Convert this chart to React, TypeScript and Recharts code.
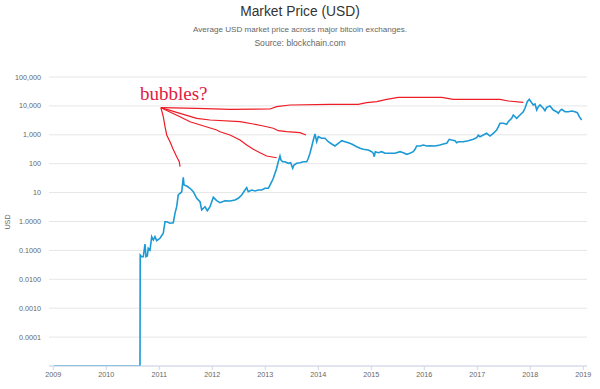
import React from "react";
import { LineChart, Line, XAxis, YAxis, CartesianGrid } from "recharts";

// ---- Data ----
const priceYears = [
  2009.01, 2010.636, 2010.64, 2010.668, 2010.698, 2010.73, 2010.749, 2010.774, 2010.792, 2010.825,
  2010.857, 2010.887, 2010.919, 2010.951, 2011.013, 2011.075, 2011.108, 2011.14, 2011.202, 2011.264,
  2011.296, 2011.328, 2011.358, 2011.391, 2011.423, 2011.453, 2011.466, 2011.517, 2011.579, 2011.642,
  2011.706, 2011.768, 2011.8, 2011.862, 2011.906, 2011.957, 2012.019, 2012.083, 2012.145, 2012.24,
  2012.334, 2012.428, 2012.491, 2012.555, 2012.617, 2012.649, 2012.679, 2012.743, 2012.806, 2012.868,
  2012.932, 2012.994, 2013.057, 2013.089, 2013.121, 2013.151, 2013.183, 2013.215, 2013.245, 2013.277,
  2013.296, 2013.328, 2013.372, 2013.434, 2013.479, 2013.517, 2013.542, 2013.592, 2013.655, 2013.717,
  2013.781, 2013.811, 2013.843, 2013.875, 2013.906, 2013.938, 2013.97, 2014.0, 2014.064, 2014.126,
  2014.189, 2014.253, 2014.315, 2014.377, 2014.442, 2014.504, 2014.566, 2014.63, 2014.725, 2014.787,
  2014.849, 2014.943, 2015.008, 2015.038, 2015.057, 2015.075, 2015.132, 2015.196, 2015.258, 2015.353,
  2015.447, 2015.542, 2015.604, 2015.668, 2015.73, 2015.792, 2015.825, 2015.857, 2015.919, 2015.981,
  2016.045, 2016.108, 2016.202, 2016.296, 2016.358, 2016.423, 2016.472, 2016.517, 2016.579, 2016.611,
  2016.642, 2016.736, 2016.83, 2016.925, 2016.989, 2017.019, 2017.051, 2017.113, 2017.177, 2017.24,
  2017.302, 2017.366, 2017.428, 2017.491, 2017.555, 2017.585, 2017.649, 2017.679, 2017.743, 2017.806,
  2017.868, 2017.9, 2017.943, 2017.981, 2018.026, 2018.057, 2018.089, 2018.121, 2018.151, 2018.183,
  2018.245, 2018.277, 2018.309, 2018.372, 2018.434, 2018.498, 2018.528, 2018.56, 2018.592, 2018.655,
  2018.717, 2018.781, 2018.843, 2018.887, 2018.925, 2018.97,
];
const priceValues = [
  0.00001, 0.00001, 0.069, 0.0605, 0.0605, 0.166, 0.0605, 0.064, 0.118, 0.103,
  0.298, 0.229, 0.298, 0.217, 0.262, 0.391, 0.98, 0.98, 0.87, 0.91,
  1.92, 3.25, 8.26, 9.46, 10.7, 33.8, 18.3, 16.9, 14.1, 10.7,
  6.35, 4.84, 2.5, 3.25, 2.36, 3.25, 6.87, 5.25, 4.48, 5.25,
  5.12, 5.54, 6.35, 8.26, 12.3, 14.8, 10.7, 12.3, 11.4, 12.3,
  12.3, 14.1, 14.1, 18.3, 23.8, 31.3, 46.5, 69.3, 117, 185,
  134, 117, 117, 103, 108, 69.3, 90, 103, 108, 117,
  117, 154, 229, 387, 661, 1066, 577, 859, 757, 757,
  577, 481, 410, 508, 625, 577, 533, 481, 387, 341,
  315, 298, 260, 229, 175, 260, 240, 260, 229, 229,
  229, 260, 240, 211, 229, 260, 315, 410, 410, 444,
  410, 420, 410, 444, 481, 508, 698, 661, 625, 533,
  577, 577, 625, 698, 794, 961, 859, 985, 1127, 908,
  1127, 1466, 2500, 2500, 2307, 2840, 3724, 4842, 3724, 4842,
  6300, 8260, 13970, 16900, 12900, 10740, 11640, 7210, 9380, 10740,
  8260, 6820, 8950, 9930, 7210, 6300, 5540, 6820, 7630, 6300,
  6300, 6670, 6300, 5820, 4230, 3250,
];

// hand-drawn "bubbles?" annotation strokes
const bubbleAYears = [2011.03, 2011.075, 2011.108, 2011.14, 2011.202, 2011.253, 2011.328, 2011.377, 2011.391];
const bubbleAValues = [8670, 4230, 1905, 985, 577, 341, 175, 117, 78.7];
const bubbleBYears = [2011.03, 2011.391, 2011.579, 2012.083, 2012.145, 2012.334, 2012.523, 2012.649, 2012.774, 2012.9, 2013.026, 2013.215];
const bubbleBValues = [8670, 4230, 2840, 1466, 1280, 985, 661, 444, 315, 240, 185, 161];
const bubbleCYears = [2011.03, 2011.391, 2011.706, 2011.957, 2012.523, 2012.774, 2012.962, 2013.151, 2013.245, 2013.404, 2013.655, 2013.768];
const bubbleCValues = [8670, 5540, 3724, 3250, 2840, 2365, 2015, 1680, 1387, 1280, 1183, 985];
const bubbleDYears = [2011.03, 2011.706, 2012.334, 2013.089, 2013.215, 2013.466, 2014.221, 2014.755, 2014.913, 2015.102, 2015.291, 2015.509, 2016.328, 2016.547, 2017.428, 2017.585, 2017.868];
const bubbleDValues = [8670, 8260, 7630, 7820, 9380, 10740, 11360, 11360, 12900, 13970, 16900, 19860, 19860, 16900, 16900, 14790, 13330];

const xTicks = [2009, 2010, 2011, 2012, 2013, 2014, 2015, 2016, 2017, 2018, 2019];
const yTicks = [0.00001, 0.0001, 0.001, 0.01, 0.1, 1, 10, 100, 1000, 10000, 100000];
const yTickLabels = ["", "0.0001", "0.0010", "0.0100", "0.1000", "1.0000", "10", "100", "1,000", "10,000", "100,000"];

const toRows = (xs: number[], vs: number[]) => xs.map((t, i) => ({ t, v: vs[i] }));

const priceRows = toRows(priceYears, priceValues);
const bubbleRows = [
  toRows(bubbleAYears, bubbleAValues),
  toRows(bubbleBYears, bubbleBValues),
  toRows(bubbleCYears, bubbleCValues),
  toRows(bubbleDYears, bubbleDValues),
];

const FONT = "'Liberation Sans', Arial, Helvetica, sans-serif";

export default function App() {
  return (
    <div style={{ position: "fixed", left: 0, top: 0, width: 600, height: 389, background: "#fff", fontFamily: FONT }}>
      <div style={{ position: "absolute", left: 0, width: 600, top: 4.5, textAlign: "center", fontSize: 13.8, lineHeight: 1, color: "#333" }}>
        Market Price (USD)
      </div>
      <div style={{ position: "absolute", left: 0, width: 600, top: 25.5, textAlign: "center", fontSize: 8.1, lineHeight: 1, color: "#666" }}>
        Average USD market price across major bitcoin exchanges.
      </div>
      <div style={{ position: "absolute", left: 0, width: 600, top: 38.6, textAlign: "center", fontSize: 8.6, lineHeight: 1, color: "#666" }}>
        Source: blockchain.com
      </div>
      <div
        style={{
          position: "absolute",
          left: 7.5,
          top: 221.5,
          transform: "translate(-50%, -50%) rotate(-90deg)",
          fontSize: 7.2,
          lineHeight: 1,
          color: "#666",
          whiteSpace: "nowrap",
        }}
      >
        USD
      </div>
      <div style={{ position: "absolute", left: 0, top: 0 }}>
        <LineChart width={600} height={389} margin={{ top: 77, right: 13, bottom: 5, left: 0 }} style={{ fontFamily: FONT }}>
          <CartesianGrid vertical={false} stroke="#e6e6e6" />
          <XAxis
            dataKey="t"
            type="number"
            domain={[2008.919, 2019.07]}
            allowDataOverflow
            ticks={xTicks}
            interval={0}
            tickFormatter={(v: number) => String(v)}
            tick={{ fontSize: 7.2, fill: "#666" }}
            stroke="#ccd6eb"
            tickSize={4}
            tickMargin={2}
            height={18}
          />
          <YAxis
            type="number"
            scale="log"
            domain={[0.00001, 100000]}
            allowDataOverflow
            ticks={yTicks}
            interval={0}
            tickFormatter={(v: number) => yTickLabels[Math.round(Math.log10(v)) + 5] ?? ""}
            tick={{ fontSize: 7.2, fill: "#666" }}
            axisLine={false}
            tickLine={false}
            tickSize={0}
            tickMargin={8}
            width={49}
          />
          {bubbleRows.map((rows, i) => (
            <Line
              key={"b" + i}
              data={rows}
              dataKey="v"
              type="linear"
              stroke="#ee1c25"
              strokeWidth={1.2}
              dot={false}
              activeDot={false}
              isAnimationActive={false}
            />
          ))}
          <Line
            data={priceRows}
            dataKey="v"
            type="linear"
            stroke="#1b9ad6"
            strokeWidth={1.6}
            dot={false}
            activeDot={false}
            isAnimationActive={false}
          />
        </LineChart>
      </div>
      <div
        style={{
          position: "absolute",
          left: 140,
          top: 84,
          fontFamily: "'Liberation Serif', 'Times New Roman', serif",
          fontSize: 19,
          lineHeight: 1,
          color: "#e0203f",
          whiteSpace: "nowrap",
        }}
      >
        bubbles?
      </div>
    </div>
  );
}
